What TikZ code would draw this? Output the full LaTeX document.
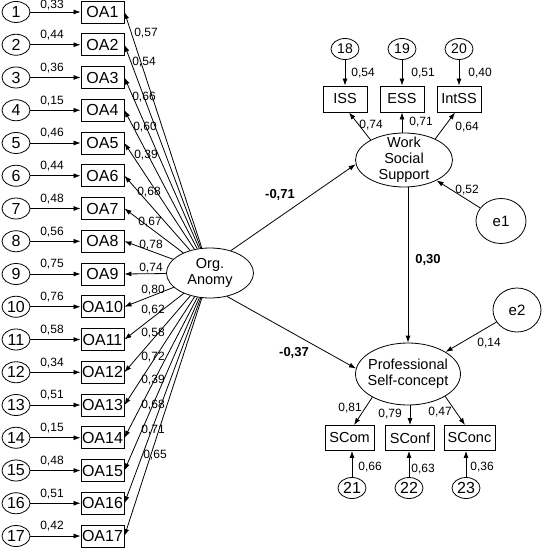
\documentclass[tikz,border=0pt]{standalone}
\usepackage{fontspec}
\setmainfont{Liberation Sans}
\usetikzlibrary{shapes.geometric,arrows.meta}

\tikzset{
  errnode/.style={ellipse, draw, line width=0.8pt, minimum width=28pt, minimum height=21pt, inner sep=0pt, font=\fontsize{16}{16}\selectfont},
  obsbox/.style={rectangle, draw, line width=0.9pt, minimum width=43pt, minimum height=22pt, inner sep=0pt, font=\fontsize{16}{16}\selectfont},
  scalebox/.style={rectangle, draw, line width=0.9pt, minimum width=44pt, minimum height=26pt, inner sep=0pt},
  latent/.style={ellipse, draw, line width=0.8pt, inner sep=0pt},
  coef/.style={inner sep=0pt, font=\fontsize{12}{12}\selectfont},
  pathcoef/.style={inner sep=0pt, font=\fontsize{13}{13}\selectfont\bfseries},
  arr/.style={-{Latex[length=7pt,width=5pt]}, line width=0.8pt}
}

\begin{document}
\begin{tikzpicture}[x=1pt,y=-1pt,font=\fontsize{14.5}{16}\selectfont]
  \useasboundingbox (0,0) rectangle (549,556);

  \node[latent, minimum width=87pt, minimum height=50pt, label={[align=center]center:Org.\\Anomy}] (anomy) at (210,273) {};
  \node[latent, minimum width=97pt, minimum height=54pt, label={[align=center]center:Work\\Social\\Support}] (wss) at (404,160) {};
  \node[latent, minimum width=105pt, minimum height=62pt, label={[align=center]center:Professional\\Self-concept}] (psc) at (408,374) {};
  \node[errnode, minimum width=50pt, minimum height=45pt, font=\fontsize{15}{15}\selectfont] (e1) at (501,221) {e1};
  \node[errnode, minimum width=48pt, minimum height=44pt, font=\fontsize{15}{15}\selectfont] (e2) at (517,310) {e2};

  \foreach \i/\ew/\lw/\lx/\ly in {
    1/{0,33}/{0,57}/146/33,
    2/{0,44}/{0,54}/144/62,
    3/{0,36}/{0,66}/144/97,
    4/{0,15}/{0,60}/145/127,
    5/{0,46}/{0,39}/146/155,
    6/{0,44}/{0,68}/149/192,
    7/{0,48}/{0,67}/150/222,
    8/{0,56}/{0,78}/151/245,
    9/{0,75}/{0,74}/151/268,
    10/{0,76}/{0,80}/153/290,
    11/{0,58}/{0,62}/153/310,
    12/{0,34}/{0,58}/153/333,
    13/{0,51}/{0,72}/153/357,
    14/{0,15}/{0,39}/153/380,
    15/{0,48}/{0,68}/153/405,
    16/{0,51}/{0,71}/153/430,
    17/{0,42}/{0,65}/155/455}{
    \pgfmathsetmacro\ry{12+32.75*(\i-1)}
    \pgfmathsetmacro\ty{max(5.5,\ry-9.5)}
    \node[errnode] (u\i) at (16,\ry) {\i};
    \node[obsbox] (oa\i) at (102.5,\ry) {OA\i};
    \draw[arr] (u\i) -- (oa\i);
    \node[coef] at (52,\ty) {\ew};
    \draw[arr] (anomy) -- (oa\i.east);
    \node[coef] at (\lx,\ly) {\lw};
  }

  \node[scalebox] (iss) at (345,99) {ISS};
  \node[scalebox] (ess) at (402,99) {ESS};
  \node[scalebox] (intss) at (459,99) {IntSS};
  \node[errnode, font=\fontsize{14}{14}\selectfont] (u18) at (345,49) {18};
  \node[errnode, font=\fontsize{14}{14}\selectfont] (u19) at (402,49) {19};
  \node[errnode, font=\fontsize{14}{14}\selectfont] (u20) at (459,49) {20};

  \node[scalebox, minimum width=49pt, minimum height=25pt] (scom) at (349.5,438) {SCom};
  \node[scalebox, minimum width=49pt, minimum height=25pt] (sconf) at (410,438) {SConf};
  \node[scalebox, minimum width=51pt, minimum height=25pt] (sconc) at (469.5,438) {SConc};
  \node[errnode] (u21) at (352,488) {21};
  \node[errnode] (u22) at (409,488) {22};
  \node[errnode] (u23) at (466,488) {23};

  \draw[arr] (u18) -- (iss);
  \draw[arr] (u19) -- (ess);
  \draw[arr] (u20) -- (intss);
  \draw[arr] (wss.149) -- ([xshift=4pt]iss.south);
  \draw[arr] (ess.south |- wss.north) -- (ess.south);
  \draw[arr] (wss.34) -- ([xshift=-4pt]intss.south);

  \draw[arr] (anomy.47) -- (wss.185);
  \draw[arr] (anomy.-54) -- (psc.174);
  \draw[arr] (wss.south -| psc.north) -- (psc.north);
  \draw[arr] (e1) -- (wss);
  \draw[arr] (e2) -- (psc);

  \draw[arr] (psc.-147) -- ([xshift=4.5pt]scom.north);
  \draw[arr] (sconf.north |- psc.south) -- (sconf.north);
  \draw[arr] (psc.-31) -- ([xshift=-4.5pt]sconc.north);
  \draw[arr] (u21) -- (u21 |- scom.south);
  \draw[arr] (u22) -- (u22 |- sconf.south);
  \draw[arr] (u23) -- (u23 |- sconc.south);

  \node[coef] at (363,73) {0,54};
  \node[coef] at (423,73) {0,51};
  \node[coef] at (480,73) {0,40};
  \node[coef] at (371,125) {0,74};
  \node[coef] at (421,122) {0,71};
  \node[coef] at (467,127) {0,64};
  \node[coef] at (467,190) {0,52};
  \node[coef] at (489,343) {0,14};
  \node[coef] at (350,408) {0,81};
  \node[coef] at (390,414) {0,79};
  \node[coef] at (440,412) {0,47};
  \node[coef] at (370,467) {0,66};
  \node[coef] at (423,469) {0,63};
  \node[coef] at (482,467) {0,36};

  \node[pathcoef] at (280,195) {-0,71};
  \node[pathcoef] at (294,353) {-0,37};
  \node[pathcoef] at (428,260) {0,30};

\end{tikzpicture}
\end{document}
